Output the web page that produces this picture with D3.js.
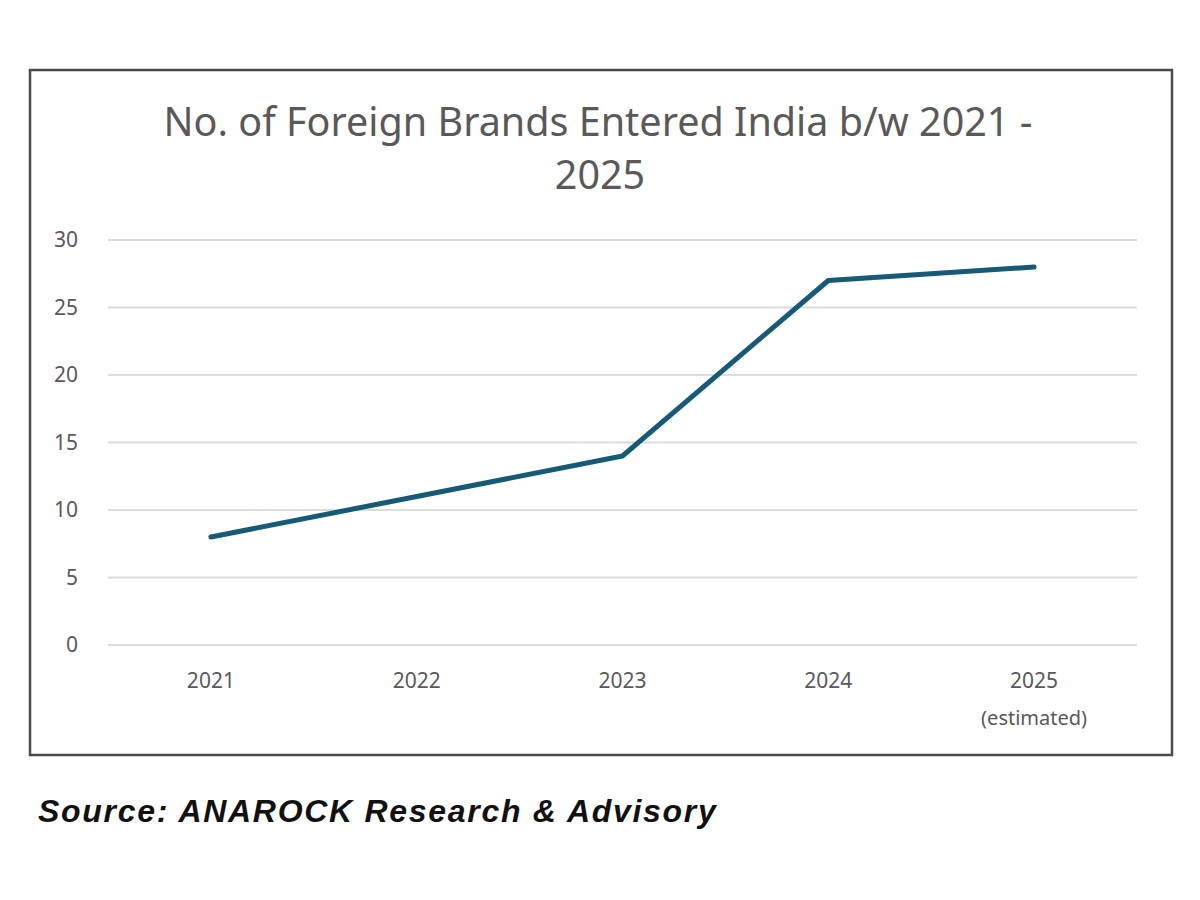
<!doctype html>
<html>
  <head>
    <meta charset="utf-8">
    <title>Foreign brands entered India</title>
    <script src="https://cdn.jsdelivr.net/npm/d3@7"></script>
    <style>
      html, body { margin:0; padding:0; background:#fff; overflow:hidden }
      svg text { font-family: "Noto Sans", "Open Sans", sans-serif; }
      svg text.source { font-family: "Liberation Sans", Arial, sans-serif; }
    </style>
  </head>
  <body>
    <div id="chart"></div>
    <script>
      // data
      var years = ["2021", "2022", "2023", "2024", "2025"];
      var yearNotes = ["", "", "", "", "(estimated)"];
      var brands = [8, 11, 14, 27, 28];
      var yTicks = [0, 5, 10, 15, 20, 25, 30];

      var W = 1200, H = 900;
      var svg = d3.select("#chart").append("svg")
        .attr("width", W).attr("height", H);

      // frame round the chart
      svg.append("rect")
        .attr("x", 30).attr("y", 70)
        .attr("width", 1142).attr("height", 685)
        .attr("fill", "#fff")
        .attr("stroke", "#4a4a4a").attr("stroke-width", 2.5);

      var title = svg.append("text")
        .attr("text-anchor", "middle")
        .attr("fill", "#595959")
        .attr("font-size", 39.5);
      title.append("tspan").attr("x", 598).attr("y", 136)
        .text("No. of Foreign Brands Entered India b/w 2021 -");
      title.append("tspan").attr("x", 600).attr("y", 189)
        .text("2025");

      var plotL = 108, plotR = 1137, plotT = 240, plotB = 645;

      var x = d3.scaleBand().domain(years).range([plotL, plotR]);
      var y = d3.scaleLinear().domain([0, 30]).range([plotB, plotT]);

      // gridlines
      svg.append("g")
        .selectAll("line")
        .data(yTicks)
        .join("line")
        .attr("x1", plotL).attr("x2", plotR)
        .attr("y1", function(d) { return y(d); })
        .attr("y2", function(d) { return y(d); })
        .attr("stroke", "#dcdcdc")
        .attr("stroke-width", 2);

      var yAxis = svg.append("g")
        .attr("transform", "translate(" + (plotL - 30) + ",0)")
        .call(d3.axisLeft(y).tickValues(yTicks).tickSize(0).tickPadding(0));
      yAxis.select(".domain").remove();
      yAxis.selectAll("text")
        .attr("font-size", 21)
        .attr("fill", "#595959");

      var xAxis = svg.append("g")
        .attr("transform", "translate(0," + plotB + ")")
        .call(d3.axisBottom(x).tickSize(0).tickPadding(28));
      xAxis.select(".domain").remove();
      xAxis.selectAll("text")
        .attr("font-size", 21)
        .attr("fill", "#595959");
      xAxis.selectAll(".tick")
        .append("text")
        .attr("y", 80)
        .attr("text-anchor", "middle")
        .attr("font-size", 20)
        .attr("fill", "#595959")
        .text(function(d, i) { return yearNotes[i]; });

      var line = d3.line()
        .x(function(d, i) { return x(years[i]) + x.bandwidth() / 2; })
        .y(function(d) { return y(d); });

      svg.append("path")
        .datum(brands)
        .attr("d", line)
        .attr("fill", "none")
        .attr("stroke", "#175a78")
        .attr("stroke-width", 5)
        .attr("stroke-linecap", "round")
        .attr("stroke-linejoin", "round");

      svg.append("text")
        .attr("class", "source")
        .attr("x", 38).attr("y", 822)
        .attr("font-weight", "bold")
        .attr("font-style", "italic")
        .attr("font-size", 32)
        .attr("letter-spacing", 1.7)
        .attr("fill", "#111")
        .text("Source: ANAROCK Research & Advisory");
    </script>
  </body>
</html>
